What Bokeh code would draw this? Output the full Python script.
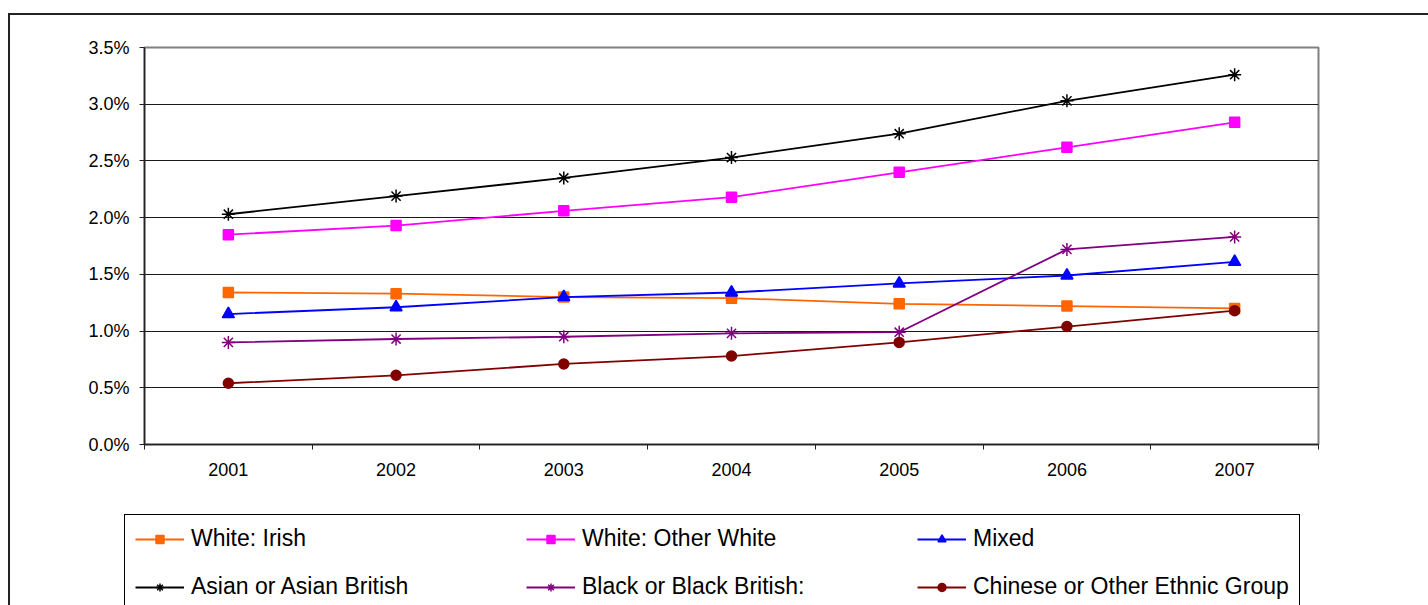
from bokeh.plotting import figure
from bokeh.models import Range1d, FixedTicker, PrintfTickFormatter, Legend, LegendItem
from bokeh.layouts import column
from bokeh.embed import file_html
from bokeh.resources import INLINE

years = [2001, 2002, 2003, 2004, 2005, 2006, 2007]

white_irish = [1.34, 1.33, 1.30, 1.29, 1.24, 1.22, 1.20]
white_other = [1.85, 1.93, 2.06, 2.18, 2.40, 2.62, 2.84]
mixed = [1.15, 1.21, 1.30, 1.34, 1.42, 1.49, 1.61]
asian = [2.03, 2.19, 2.35, 2.53, 2.74, 3.03, 3.26]
black = [0.90, 0.93, 0.95, 0.98, 0.99, 1.72, 1.83]
chinese = [0.54, 0.61, 0.71, 0.78, 0.90, 1.04, 1.18]

series_names = ["White: Irish", "White: Other White", "Mixed",
                "Asian or Asian British", "Black or Black British:",
                "Chinese or Other Ethnic Group"]
series_values = [white_irish, white_other, mixed, asian, black, chinese]
colors = ["#FF6600", "#FF00FF", "#0000FF", "#000000", "#800080", "#800000"]
markers = ["square", "square", "triangle", "asterisk", "asterisk", "circle"]
sizes = [10, 10, 12, 13, 13, 10]

y_ticks = [0.0, 0.5, 1.0, 1.5, 2.0, 2.5, 3.0, 3.5]

FONT = "Liberation Sans"

p = figure(width=1418, height=479,
           x_range=Range1d(years[0] - 0.5, years[-1] + 0.5),
           y_range=Range1d(y_ticks[0], y_ticks[-1]),
           output_backend="svg", toolbar_location=None,
           min_border_left=134, min_border_right=110,
           min_border_top=32, min_border_bottom=50)

p.outline_line_color = "#808080"
p.outline_line_width = 2

# x axis
p.xaxis.ticker = FixedTicker(ticks=years, minor_ticks=[y - 0.5 for y in years] + [years[-1] + 0.5])
p.xaxis.major_tick_out = 0
p.xaxis.major_tick_in = 0
p.xaxis.minor_tick_out = 5
p.xaxis.minor_tick_in = 0
p.xaxis.minor_tick_line_color = "#222222"
p.xaxis.minor_tick_line_width = 1
p.xaxis.axis_line_color = "#222222"
p.xaxis.axis_line_width = 1.5
p.xaxis.major_label_text_font = FONT
p.xaxis.major_label_text_font_size = "18px"
p.xaxis.major_label_text_color = "#000000"
p.xaxis.major_label_standoff = 13
p.xgrid.visible = False

# y axis
p.yaxis.ticker = FixedTicker(ticks=y_ticks, minor_ticks=[])
p.yaxis.formatter = PrintfTickFormatter(format="%.1f%%")
p.yaxis.major_tick_out = 5
p.yaxis.major_tick_in = 0
p.yaxis.major_tick_line_color = "#222222"
p.yaxis.minor_tick_out = 0
p.yaxis.minor_tick_in = 0
p.yaxis.axis_line_color = "#222222"
p.yaxis.axis_line_width = 1.5
p.yaxis.major_label_text_font = FONT
p.yaxis.major_label_text_font_size = "18px"
p.yaxis.major_label_text_color = "#000000"
p.yaxis.major_label_standoff = 10
p.ygrid.ticker = FixedTicker(ticks=y_ticks)
p.ygrid.grid_line_color = "#1a1a1a"
p.ygrid.grid_line_width = 1

# legend strip below the chart
q = figure(width=1418, height=111, x_range=Range1d(0, 1), y_range=Range1d(0, 1),
           x_axis_type=None, y_axis_type=None,
           output_backend="svg", toolbar_location=None, min_border=0)
q.outline_line_color = None
q.xgrid.visible = False
q.ygrid.visible = False
try:
    q.frame_align = False
except Exception:
    pass

items = []
for name, vals, col, mk, sz in zip(series_names, series_values, colors, markers, sizes):
    p.line(years, vals, line_color=col, line_width=1.8)
    p.scatter(years, vals, marker=mk, size=sz, fill_color=col, line_color=col, line_width=1.5)
    l1 = q.line(years, vals, line_color=col, line_width=1.8)
    l2 = q.scatter(years, vals, marker=mk, size=sz, fill_color=col, line_color=col, line_width=1.5)
    items.append(LegendItem(label=name, renderers=[l1, l2]))

legend = Legend(items=items, location=(114, -6), orientation="horizontal", ncols=3,
                glyph_width=49, glyph_height=20, label_standoff=7,
                label_width=314, label_height=27, spacing=21, padding=10, margin=0,
                label_text_font=FONT, label_text_font_size="23px",
                label_text_color="#000000",
                border_line_color="#000000", border_line_width=1.5, border_line_alpha=1.0,
                background_fill_color="#ffffff", background_fill_alpha=1.0)
q.add_layout(legend, "center")

layout = column(p, q, spacing=0)
layout.margin = (13, 0, 0, 8)
layout.styles = {"border-top": "2px solid #222222", "border-left": "2px solid #222222"}

open("out.html", "w").write(file_html(layout, INLINE))
